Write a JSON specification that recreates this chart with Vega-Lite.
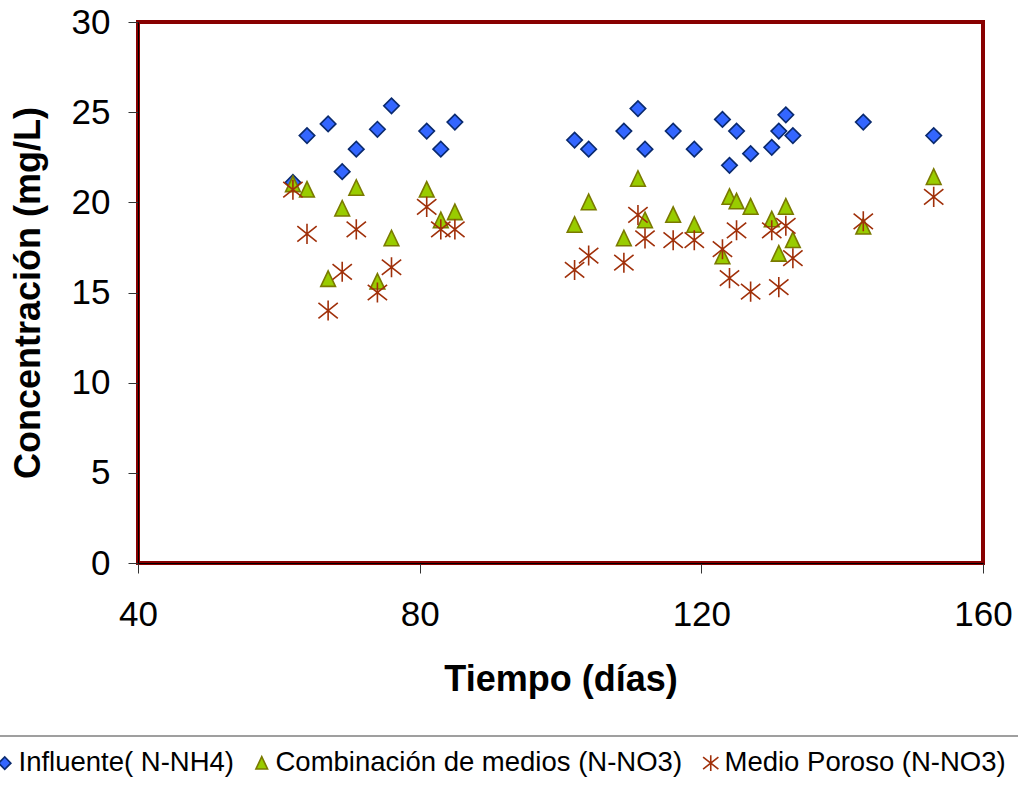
{
  "$schema": "https://vega.github.io/schema/vega-lite/v6.json",
  "width": 845,
  "height": 541,
  "autosize": {"type": "none"},
  "padding": {"left": 138, "top": 22, "right": 35, "bottom": 222},
  "background": "white",
  "data": {
    "values": [
      {"t": 62, "c": 21.1, "serie": "Influente( N-NH4)"},
      {"t": 64, "c": 23.7, "serie": "Influente( N-NH4)"},
      {"t": 67, "c": 24.35, "serie": "Influente( N-NH4)"},
      {"t": 69, "c": 21.7, "serie": "Influente( N-NH4)"},
      {"t": 71, "c": 22.95, "serie": "Influente( N-NH4)"},
      {"t": 74, "c": 24.05, "serie": "Influente( N-NH4)"},
      {"t": 76, "c": 25.35, "serie": "Influente( N-NH4)"},
      {"t": 81, "c": 23.95, "serie": "Influente( N-NH4)"},
      {"t": 83, "c": 22.95, "serie": "Influente( N-NH4)"},
      {"t": 85, "c": 24.45, "serie": "Influente( N-NH4)"},
      {"t": 102, "c": 23.45, "serie": "Influente( N-NH4)"},
      {"t": 104, "c": 22.95, "serie": "Influente( N-NH4)"},
      {"t": 109, "c": 23.95, "serie": "Influente( N-NH4)"},
      {"t": 111, "c": 25.2, "serie": "Influente( N-NH4)"},
      {"t": 112, "c": 22.95, "serie": "Influente( N-NH4)"},
      {"t": 116, "c": 23.95, "serie": "Influente( N-NH4)"},
      {"t": 119, "c": 22.95, "serie": "Influente( N-NH4)"},
      {"t": 123, "c": 24.6, "serie": "Influente( N-NH4)"},
      {"t": 124, "c": 22.05, "serie": "Influente( N-NH4)"},
      {"t": 125, "c": 23.95, "serie": "Influente( N-NH4)"},
      {"t": 127, "c": 22.7, "serie": "Influente( N-NH4)"},
      {"t": 130, "c": 23.05, "serie": "Influente( N-NH4)"},
      {"t": 131, "c": 23.95, "serie": "Influente( N-NH4)"},
      {"t": 132, "c": 24.85, "serie": "Influente( N-NH4)"},
      {"t": 133, "c": 23.7, "serie": "Influente( N-NH4)"},
      {"t": 143, "c": 24.45, "serie": "Influente( N-NH4)"},
      {"t": 153, "c": 23.7, "serie": "Influente( N-NH4)"},

      {"t": 62, "c": 21.0, "serie": "Combinación de medios (N-NO3)"},
      {"t": 64, "c": 20.7, "serie": "Combinación de medios (N-NO3)"},
      {"t": 67, "c": 15.75, "serie": "Combinación de medios (N-NO3)"},
      {"t": 69, "c": 19.65, "serie": "Combinación de medios (N-NO3)"},
      {"t": 71, "c": 20.8, "serie": "Combinación de medios (N-NO3)"},
      {"t": 74, "c": 15.6, "serie": "Combinación de medios (N-NO3)"},
      {"t": 76, "c": 18.0, "serie": "Combinación de medios (N-NO3)"},
      {"t": 81, "c": 20.7, "serie": "Combinación de medios (N-NO3)"},
      {"t": 83, "c": 19.0, "serie": "Combinación de medios (N-NO3)"},
      {"t": 85, "c": 19.45, "serie": "Combinación de medios (N-NO3)"},
      {"t": 102, "c": 18.75, "serie": "Combinación de medios (N-NO3)"},
      {"t": 104, "c": 20.0, "serie": "Combinación de medios (N-NO3)"},
      {"t": 109, "c": 18.0, "serie": "Combinación de medios (N-NO3)"},
      {"t": 111, "c": 21.3, "serie": "Combinación de medios (N-NO3)"},
      {"t": 112, "c": 19.0, "serie": "Combinación de medios (N-NO3)"},
      {"t": 116, "c": 19.3, "serie": "Combinación de medios (N-NO3)"},
      {"t": 119, "c": 18.75, "serie": "Combinación de medios (N-NO3)"},
      {"t": 123, "c": 17.0, "serie": "Combinación de medios (N-NO3)"},
      {"t": 124, "c": 20.3, "serie": "Combinación de medios (N-NO3)"},
      {"t": 125, "c": 20.05, "serie": "Combinación de medios (N-NO3)"},
      {"t": 127, "c": 19.75, "serie": "Combinación de medios (N-NO3)"},
      {"t": 130, "c": 19.05, "serie": "Combinación de medios (N-NO3)"},
      {"t": 131, "c": 17.15, "serie": "Combinación de medios (N-NO3)"},
      {"t": 132, "c": 19.75, "serie": "Combinación de medios (N-NO3)"},
      {"t": 133, "c": 17.9, "serie": "Combinación de medios (N-NO3)"},
      {"t": 143, "c": 18.65, "serie": "Combinación de medios (N-NO3)"},
      {"t": 153, "c": 21.4, "serie": "Combinación de medios (N-NO3)"},

      {"t": 62, "c": 20.7, "serie": "Medio Poroso (N-NO3)"},
      {"t": 64, "c": 18.25, "serie": "Medio Poroso (N-NO3)"},
      {"t": 67, "c": 14.0, "serie": "Medio Poroso (N-NO3)"},
      {"t": 69, "c": 16.15, "serie": "Medio Poroso (N-NO3)"},
      {"t": 71, "c": 18.5, "serie": "Medio Poroso (N-NO3)"},
      {"t": 74, "c": 15.0, "serie": "Medio Poroso (N-NO3)"},
      {"t": 76, "c": 16.4, "serie": "Medio Poroso (N-NO3)"},
      {"t": 81, "c": 19.75, "serie": "Medio Poroso (N-NO3)"},
      {"t": 83, "c": 18.5, "serie": "Medio Poroso (N-NO3)"},
      {"t": 85, "c": 18.5, "serie": "Medio Poroso (N-NO3)"},
      {"t": 102, "c": 16.25, "serie": "Medio Poroso (N-NO3)"},
      {"t": 104, "c": 17.05, "serie": "Medio Poroso (N-NO3)"},
      {"t": 109, "c": 16.65, "serie": "Medio Poroso (N-NO3)"},
      {"t": 111, "c": 19.3, "serie": "Medio Poroso (N-NO3)"},
      {"t": 112, "c": 18.0, "serie": "Medio Poroso (N-NO3)"},
      {"t": 116, "c": 17.9, "serie": "Medio Poroso (N-NO3)"},
      {"t": 119, "c": 17.9, "serie": "Medio Poroso (N-NO3)"},
      {"t": 123, "c": 17.4, "serie": "Medio Poroso (N-NO3)"},
      {"t": 124, "c": 15.8, "serie": "Medio Poroso (N-NO3)"},
      {"t": 125, "c": 18.45, "serie": "Medio Poroso (N-NO3)"},
      {"t": 127, "c": 15.05, "serie": "Medio Poroso (N-NO3)"},
      {"t": 130, "c": 18.45, "serie": "Medio Poroso (N-NO3)"},
      {"t": 131, "c": 15.3, "serie": "Medio Poroso (N-NO3)"},
      {"t": 132, "c": 18.7, "serie": "Medio Poroso (N-NO3)"},
      {"t": 133, "c": 16.9, "serie": "Medio Poroso (N-NO3)"},
      {"t": 143, "c": 18.95, "serie": "Medio Poroso (N-NO3)"},
      {"t": 153, "c": 20.3, "serie": "Medio Poroso (N-NO3)"}
    ]
  },
  "mark": {"type": "point", "filled": true, "size": 240, "opacity": 1},
  "encoding": {
    "x": {
      "field": "t",
      "type": "quantitative",
      "title": "Tiempo (días)",
      "scale": {"domain": [40, 160], "nice": false, "zero": false},
      "axis": {"values": [40, 80, 120, 160], "labelFlush": false, "labelPadding": 24, "titlePadding": 30}
    },
    "y": {
      "field": "c",
      "type": "quantitative",
      "title": "Concentración (mg/L)",
      "scale": {"domain": [0, 30], "nice": false},
      "axis": {"values": [0, 5, 10, 15, 20, 25, 30], "labelFlush": false, "labelPadding": 18, "titlePadding": 24}
    },
    "fill": {
      "field": "serie",
      "type": "nominal",
      "scale": {
        "domain": ["Influente( N-NH4)", "Combinación de medios (N-NO3)", "Medio Poroso (N-NO3)"],
        "range": ["#3366FF", "#99CC00", "transparent"]
      },
      "legend": {"title": null, "orient": "none", "direction": "horizontal", "legendX": -160, "legendY": 714}
    },
    "stroke": {
      "field": "serie",
      "type": "nominal",
      "scale": {
        "domain": ["Influente( N-NH4)", "Combinación de medios (N-NO3)", "Medio Poroso (N-NO3)"],
        "range": ["#0A2A6E", "#7A7A00", "#A0300A"]
      },
      "legend": {"title": null, "orient": "none", "direction": "horizontal", "legendX": -160, "legendY": 714}
    },
    "shape": {
      "field": "serie",
      "type": "nominal",
      "scale": {
        "domain": ["Influente( N-NH4)", "Combinación de medios (N-NO3)", "Medio Poroso (N-NO3)"],
        "range": [
          "diamond",
          "M0,-1.05L-0.95,0.95L0.95,0.95Z",
          "M0,-1.3L0,1.3M-1.25,-1.0L1.25,1.0M-1.25,1.0L1.25,-1.0"
        ]
      },
      "legend": {"title": null, "orient": "none", "direction": "horizontal", "legendX": -160, "legendY": 714}
    },
    "strokeWidth": {
      "field": "serie",
      "type": "nominal",
      "scale": {
        "domain": ["Influente( N-NH4)", "Combinación de medios (N-NO3)", "Medio Poroso (N-NO3)"],
        "range": [1.6, 1.6, 2.2]
      },
      "legend": null
    }
  },
  "config": {
    "font": "Liberation Sans",
    "view": {"stroke": "#880000", "strokeWidth": 4, "fill": "white"},
    "axis": {
      "grid": false,
      "domainColor": "#000000",
      "domainWidth": 1,
      "tickColor": "#333333",
      "tickSize": 10,
      "tickWidth": 1,
      "labelFont": "Liberation Sans",
      "labelFontSize": 35,
      "labelColor": "#000000",
      "titleFont": "Liberation Sans",
      "titleFontSize": 36,
      "titleFontWeight": "bold",
      "titleColor": "#000000"
    },
    "legend": {
      "labelFont": "Liberation Sans",
      "labelFontSize": 27.5,
      "labelColor": "#000000",
      "labelLimit": 600,
      "labelOffset": 0,
      "symbolSize": 150,
      "symbolStrokeWidth": 1.6,
      "columnPadding": 14,
      "padding": 13,
      "strokeColor": "#808080",
      "strokeWidth": 1.5,
      "fillColor": "white"
    }
  }
}
